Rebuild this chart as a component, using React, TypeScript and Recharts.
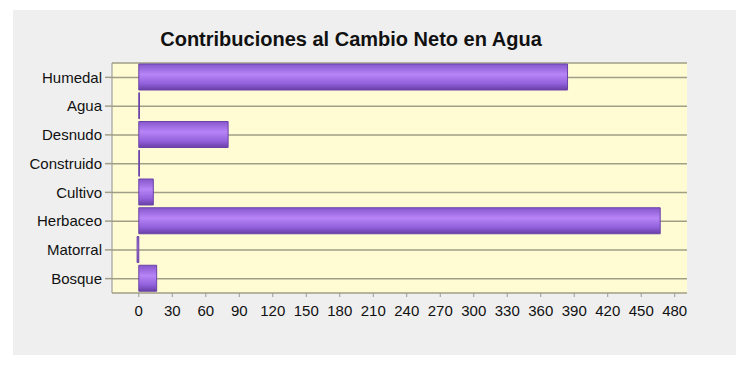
import { Bar, BarChart, CartesianGrid, XAxis, YAxis } from "recharts";

const categories = [
  "Humedal",
  "Agua",
  "Desnudo",
  "Construido",
  "Cultivo",
  "Herbaceo",
  "Matorral",
  "Bosque",
];
const values = [384, 0.6, 80, 0.6, 13, 467, -1.5, 16];
const xTicks = [0, 30, 60, 90, 120, 150, 180, 210, 240, 270, 300, 330, 360, 390, 420, 450, 480];

const data = categories.map((name, i) => ({ name, value: values[i] }));

const FONT = "'Liberation Sans', Arial, sans-serif";
const GRID = "#a09f86";

export default function App() {
  return (
    <div
      style={{
        position: "absolute",
        left: 0,
        top: 0,
        width: 750,
        height: 365,
        background: "#ffffff",
        fontFamily: FONT,
      }}
    >
      <div
        style={{
          position: "absolute",
          left: 13,
          top: 10,
          width: 723,
          height: 345,
          background: "#efefef",
        }}
      />
      <div
        style={{
          position: "absolute",
          left: 0,
          top: 28,
          width: 702,
          textAlign: "center",
          fontSize: 20,
          fontWeight: "bold",
          color: "#111",
        }}
      >
        Contribuciones al Cambio Neto en Agua
      </div>
      <div style={{ position: "absolute", left: 0, top: 0 }}>
        <BarChart
          width={750}
          height={365}
          data={data}
          layout="vertical"
          margin={{ top: 63, right: 63, bottom: 40, left: 0 }}
          barSize={26}
        >
          <defs>
            <linearGradient id="barGrad" x1="0" y1="0" x2="0" y2="1">
              <stop offset="0%" stopColor="#8656cc" />
              <stop offset="40%" stopColor="#b785f6" />
              <stop offset="75%" stopColor="#9261dc" />
              <stop offset="100%" stopColor="#683fa6" />
            </linearGradient>
          </defs>
          <CartesianGrid
            vertical={false}
            fill="#fffcd4"
            stroke={GRID}
            strokeWidth={1.5}
          />
          <XAxis
            type="number"
            domain={[-24, 491]}
            ticks={xTicks}
            allowDataOverflow
            interval={0}
            axisLine={false}
            tickLine={{ stroke: "#999" }}
            tickSize={4}
            tickMargin={8}
            height={32}
            tick={{ fill: "#111", fontSize: 15, fontFamily: FONT }}
          />
          <XAxis
            xAxisId="top"
            orientation="top"
            type="number"
            domain={[0, 1]}
            height={0}
            tick={false}
            tickLine={false}
            axisLine={{ stroke: "#cfcfc0" }}
          />
          <YAxis
            type="category"
            dataKey="name"
            width={112}
            axisLine={{ stroke: "#909090" }}
            tickLine={{ stroke: GRID, strokeWidth: 1.5 }}
            tickSize={7}
            tickMargin={3}
            interval={0}
            tick={{ fill: "#111", fontSize: 15, fontFamily: FONT }}
          />
          <Bar
            dataKey="value"
            fill="url(#barGrad)"
            stroke="#6a42a8"
            strokeWidth={1}
            isAnimationActive={false}
          />
        </BarChart>
      </div>
    </div>
  );
}
